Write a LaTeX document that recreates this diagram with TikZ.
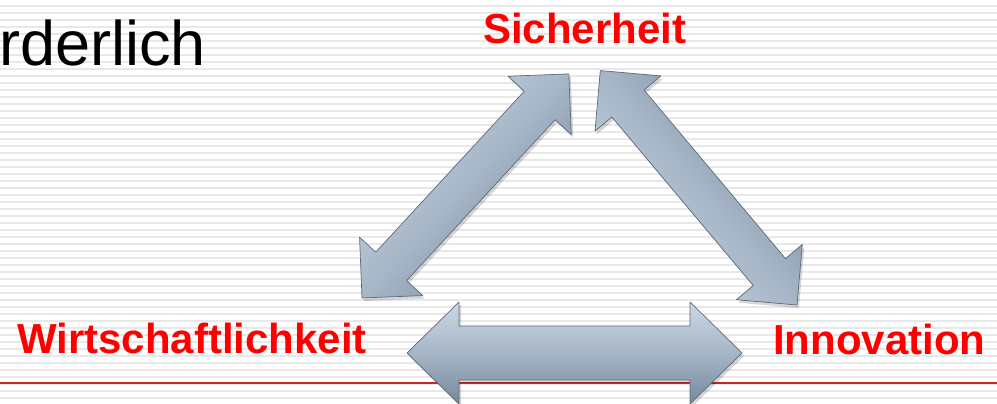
\documentclass[tikz,border=0pt]{standalone}
\usepackage{fontspec}
\setmainfont{Liberation Sans}
\usepackage{tikz}
\usetikzlibrary{arrows.meta}
\usepackage{xcolor}

\definecolor{labelred}{RGB}{255,0,0}
\definecolor{rulered}{RGB}{192,40,40}
\definecolor{arrlight}{RGB}{204,216,228}
\definecolor{arrmid}{RGB}{166,182,199}
\definecolor{arrdark}{RGB}{118,136,156}
\definecolor{arredge}{RGB}{92,106,122}

\tikzset{
	stripe/.style={fill=black!9},
	lbl/.style={text=labelred,font=\fontsize{42}{48}\selectfont\bfseries,inner sep=0pt},
	blockarr/.style={top color=arrlight,bottom color=arrdark,middle color=arrmid,draw=arredge,line width=0.7pt,line join=round},
	arrshadow/.style={fill=black,opacity=0.16}
}

% double block arrow along the x axis, #2 length, #3 half shaft, #4 half head, #5 head length
\newcommand{\dblarr}[5][blockarr]{%
	\path[#1] (0,0) -- (#5,#4) -- (#5,#3) -- ({#2-#5},#3) -- ({#2-#5},#4) -- (#2,0)
		-- ({#2-#5},-#4) -- ({#2-#5},-#3) -- (#5,-#3) -- (#5,-#4) -- cycle;}

\begin{document}
\begin{tikzpicture}[x=1pt,y=1pt]
		\useasboundingbox (0,0) rectangle (997,404);
		\clip (0,0) rectangle (997,404);
		\fill[white] (0,0) rectangle (997,404);
		
		\foreach \k in {0,...,57}
			\fill[stripe] (0,{396.5-7*\k}) rectangle (997,{399-7*\k});
		
		\draw[rulered,line width=1.2pt] (0,21) -- (997,21);
		
		\node[anchor=base west,inner sep=0pt,font=\fontsize{63}{70}\selectfont] 
		(prev) at (407,419) {g};
		\node[anchor=base west,inner sep=0pt,font=\fontsize{63}{70}\selectfont] 
		(rest) at (-1,338) {rderlich};
		
		\node[lbl,anchor=base west] (sich) at (483,360) {Sicherheit};
		\node[lbl,anchor=base west] (wirt) at (17,50) {Wirtschaftlichkeit};
		\node[lbl,anchor=base west] (inno) at (773,49) {Innovation};
		
		% Wirtschaftlichkeit -- Sicherheit
		\begin{scope}[shift={(364,103)},rotate=47.3]
			\dblarr[arrshadow]{305}{21}{43}{43}
		\end{scope}
		\begin{scope}[shift={(362,106)},rotate=47.3]
			\dblarr[blockarr,shading angle=47.3]{305}{21}{43}{43}
		\end{scope}
		
		% Innovation -- Sicherheit
		\begin{scope}[shift={(799,96)},rotate=130]
			\dblarr[arrshadow]{306}{21}{43}{43}
		\end{scope}
		\begin{scope}[shift={(797,99)},rotate=130]
			\dblarr[blockarr,shading angle=130]{306}{21}{43}{43}
		\end{scope}
		
		% Wirtschaftlichkeit -- Innovation
		\begin{scope}[shift={(409,48)}]
			\dblarr[arrshadow]{335}{27}{51}{52}
		\end{scope}
		\begin{scope}[shift={(407,51)}]
			\dblarr{335}{27}{51}{52}
		\end{scope}
	\end{tikzpicture}
\end{document}
